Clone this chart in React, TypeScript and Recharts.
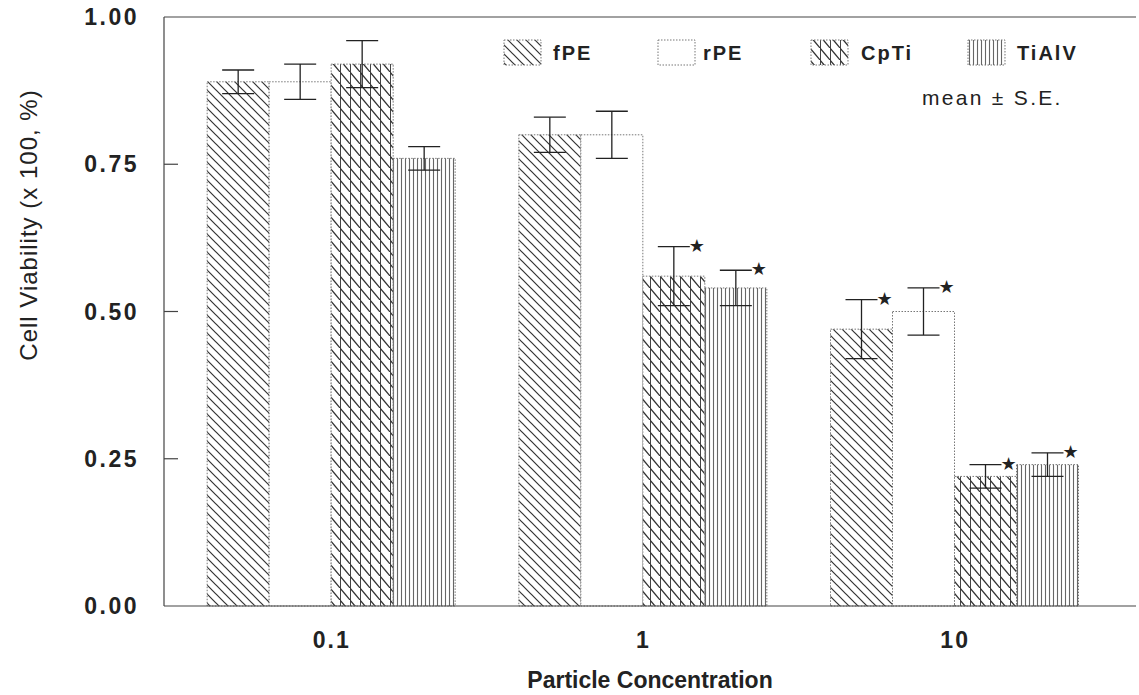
import { BarChart, Bar, XAxis, YAxis, ErrorBar, Legend, ReferenceLine, LabelList } from "recharts"

const categories = ["0.1", "1", "10"]
const fPE = [0.89, 0.8, 0.47]
const fPEErr = [0.02, 0.03, 0.05]
const rPE = [0.89, 0.8, 0.5]
const rPEErr = [0.03, 0.04, 0.04]
const cpTi = [0.92, 0.56, 0.22]
const cpTiErr = [0.04, 0.05, 0.02]
const tiAlV = [0.76, 0.54, 0.24]
const tiAlVErr = [0.02, 0.03, 0.02]
// significance markers (*)
const fPESig = [false, false, true]
const rPESig = [false, false, true]
const cpTiSig = [false, true, true]
const tiAlVSig = [false, true, true]
const yTicks = [0, 0.25, 0.5, 0.75, 1]

const series = [
  { key: "fPE", name: "fPE", fill: "url(#pat-fpe)", vals: fPE, errs: fPEErr, sig: fPESig },
  { key: "rPE", name: "rPE", fill: "#fff", vals: rPE, errs: rPEErr, sig: rPESig },
  { key: "CpTi", name: "CpTi", fill: "url(#pat-cpti)", vals: cpTi, errs: cpTiErr, sig: cpTiSig },
  { key: "TiAlV", name: "TiAlV", fill: "url(#pat-tialv)", vals: tiAlV, errs: tiAlVErr, sig: tiAlVSig },
]

const data = categories.map((cat, i) => {
  const row: any = { cat }
  series.forEach((s) => {
    row[s.key] = s.vals[i]
    row[s.key + "Err"] = s.errs[i]
    row[s.key + "Star"] = s.sig[i] ? `${s.vals[i]},${s.errs[i]}` : null
  })
  return row
})

const font = "'Liberation Sans', Arial, Helvetica, sans-serif"
const barStroke = "#777"

function Patterns() {
  return (
    <svg width={0} height={0} style={{ position: "absolute" }}>
      <defs>
        <pattern id="pat-fpe" patternUnits="userSpaceOnUse" width={9} height={9}>
          <rect width={9} height={9} fill="#fff" />
          <path d="M0,0 L9,9 M-3,6 L3,12 M6,-3 L12,3" stroke="#333" strokeWidth={1.2} />
        </pattern>
        <pattern id="pat-cpti" patternUnits="userSpaceOnUse" width={10} height={12}>
          <rect width={10} height={12} fill="#fff" />
          <path d="M0.5,0 V12" stroke="#444" strokeWidth={1} />
          <path d="M0,0 L10,12 M-5,-6 L5,6 M5,6 L15,18" stroke="#333" strokeWidth={1.2} />
        </pattern>
        <pattern id="pat-tialv" patternUnits="userSpaceOnUse" width={4} height={4}>
          <rect width={4} height={4} fill="#fff" />
          <path d="M1.5,0 V4" stroke="#666" strokeWidth={1.1} />
        </pattern>
      </defs>
    </svg>
  )
}

function YTick(props: any) {
  const { x, y, payload } = props
  const inner = payload.value > 0 && payload.value < 1
  return (
    <g>
      {inner && <line x1={x} y1={y} x2={x + 14} y2={y} stroke="#444" strokeWidth={1.2} />}
      <text x={x - 25} y={y} dy={8} textAnchor="end" fontFamily={font} fontWeight="bold" fontSize={23} letterSpacing={2.5} fill="#222">
        {payload.value.toFixed(2)}
      </text>
    </g>
  )
}

function Star(props: any) {
  const { x, y, width, height, value } = props
  if (!value) return null
  const [v, e] = String(value).split(",").map(Number)
  const scale = height / v
  const capTop = y + height - (v + e) * scale
  return (
    <text x={x + width - 8} y={capTop - 2} dy={7} textAnchor="middle" fontFamily="'DejaVu Sans', sans-serif" fontSize={18} fill="#222">
      ★
    </text>
  )
}

function LegendBox() {
  const items = [
    { s: series[0], x: 504, tx: 553 },
    { s: series[1], x: 658, tx: 703 },
    { s: series[2], x: 811, tx: 861 },
    { s: series[3], x: 968, tx: 1017 },
  ]
  return (
    <svg width={1139} height={120} style={{ display: "block" }}>
      {items.map((it) => (
        <g key={it.s.key}>
          <rect x={it.x} y={40} width={37} height={25} fill={it.s.fill} stroke={barStroke} strokeDasharray="1.5 1.5" />
          <text x={it.tx} y={60} fontFamily={font} fontWeight="bold" fontSize={20} letterSpacing={2} fill="#222">
            {it.s.name}
          </text>
        </g>
      ))}
      <text x={922} y={105} fontFamily={font} fontSize={21} letterSpacing={2.3} fill="#222">
        mean ± S.E.
      </text>
    </svg>
  )
}

export default function App() {
  return (
    <div style={{ position: "absolute", left: 0, top: 0, background: "#fff" }}>
      <Patterns />
      <BarChart
        width={1139}
        height={695}
        data={data}
        margin={{ top: 17, right: 3, bottom: 0, left: 0 }}
        barCategoryGap="10%"
        barGap={0}
      >
        <XAxis
          dataKey="cat"
          height={89}
          padding={{ left: 12, right: 25 }}
          tickLine={false}
          tickMargin={20}
          axisLine={{ stroke: "#444", strokeWidth: 1.2 }}
          tick={{ fontFamily: font, fontWeight: "bold", fontSize: 23, fill: "#222", letterSpacing: 2 }}
          label={{
            value: "Particle Concentration",
            position: "insideBottom",
            offset: 7,
            style: { fontFamily: font, fontWeight: "bold", fontSize: 23, fill: "#222" },
          }}
        />
        <YAxis
          width={164}
          domain={[0, 1]}
          ticks={yTicks}
          tickLine={false}
          tickSize={0}
          tickMargin={0}
          axisLine={{ stroke: "#444", strokeWidth: 1.2 }}
          tick={YTick}
          label={{
            content: () => (
              <text x={37} y={225} transform="rotate(-90 37 225)" textAnchor="middle" fontFamily={font} fontSize={24} letterSpacing={1} fill="#222">
                Cell Viability (x 100, %)
              </text>
            ),
          }}
        />
        <YAxis yAxisId="r" orientation="right" width={0} tick={false} tickLine={false} axisLine={{ stroke: "#444", strokeWidth: 1.2 }} />
        <ReferenceLine y={1} stroke="#444" strokeWidth={1.2} />
        <Legend
          layout="horizontal"
          verticalAlign="middle"
          align="center"
          wrapperStyle={{ top: 0, left: 0, width: 1139, height: 120 }}
          content={() => <LegendBox />}
        />
        {series.map((s) => (
          <Bar
            key={s.key}
            dataKey={s.key}
            name={s.name}
            fill={s.fill}
            stroke={barStroke}
            strokeDasharray="1.5 1.5"
            isAnimationActive={false}
          >
            <ErrorBar dataKey={s.key + "Err"} width={16} stroke="#222" strokeWidth={1.3} direction="y" />
            <LabelList dataKey={s.key + "Star"} content={Star} />
          </Bar>
        ))}
      </BarChart>
    </div>
  )
}
